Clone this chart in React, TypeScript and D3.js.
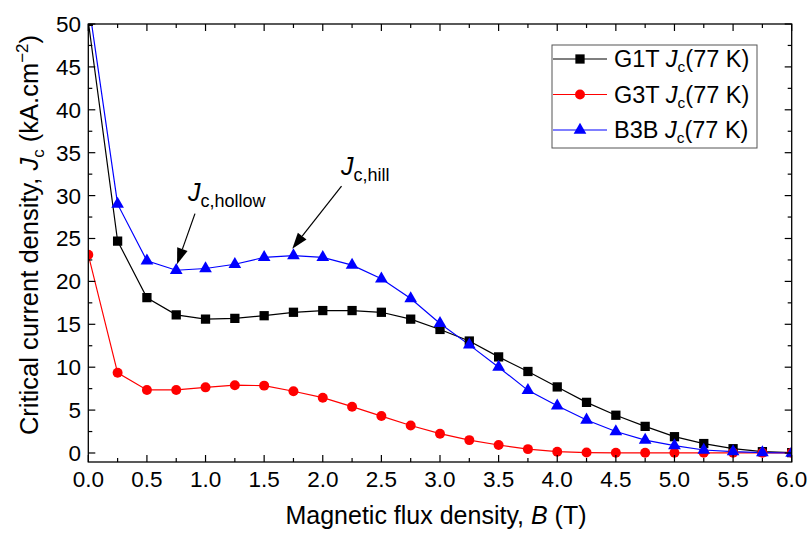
import React, { useEffect, useRef } from 'react';
import * as d3 from 'd3';

// magnetic flux density B (T)
const fields = [0, 0.25, 0.5, 0.75, 1.0, 1.25, 1.5, 1.75, 2.0, 2.25, 2.5, 2.75, 3.0, 3.25, 3.5, 3.75, 4.0, 4.25, 4.5, 4.75, 5.0, 5.25, 5.5, 5.75, 6.0];

// Jc (kA.cm^-2)
const g1t = [50.3, 24.7, 18.1, 16.1, 15.6, 15.7, 16.0, 16.4, 16.6, 16.6, 16.4, 15.6, 14.4, 13.05, 11.2, 9.5, 7.7, 5.9, 4.4, 3.1, 1.9, 1.1, 0.5, 0.15, 0.05];
const g3t = [23.1, 9.35, 7.35, 7.35, 7.65, 7.9, 7.85, 7.2, 6.45, 5.4, 4.3, 3.2, 2.25, 1.5, 0.93, 0.45, 0.15, 0.05, 0.02, 0.02, 0.02, 0.02, 0.02, 0.02, 0.02];
const b3b = [52.7, 29.0, 22.4, 21.3, 21.5, 22.0, 22.8, 23.0, 22.8, 21.9, 20.3, 18.0, 15.1, 12.6, 10.0, 7.3, 5.5, 3.85, 2.5, 1.5, 0.85, 0.35, 0.15, 0.05, 0.0];

const seriesNames = ['G1T', 'G3T', 'B3B'];
const seriesColors = ['#000000', '#ff0000', '#0000ff'];
const seriesShapes = ['square', 'circle', 'triangle'];
const seriesValues = [g1t, g3t, b3b];

const xTicks = [0, 0.5, 1, 1.5, 2, 2.5, 3, 3.5, 4, 4.5, 5, 5.5, 6];
const yTicks = [0, 5, 10, 15, 20, 25, 30, 35, 40, 45, 50];

const W = 809;
const H = 534;

const App = () => {
    const ref = useRef<SVGSVGElement | null>(null);

    useEffect(() => {
        document.body.style.margin = '0';
        if (!ref.current) return;
        const svg = d3.select(ref.current);
        svg.selectAll('*').remove();

        const left = 88.3, right = 791.7, top = 24, bottom = 462;
        const x = d3.scaleLinear().domain([0, 6]).range([left, right]);
        const y = d3.scaleLinear().domain([-1.05, 50]).range([bottom, top]);
        const font = 'Arial, "Liberation Sans", sans-serif';

        svg.append('rect').attr('width', W).attr('height', H).attr('fill', '#fff');

        svg.append('defs').append('clipPath').attr('id', 'plotclip')
            .append('rect')
            .attr('x', left).attr('y', top)
            .attr('width', right - left).attr('height', bottom - top);

        const plot = svg.append('g').attr('clip-path', 'url(#plotclip)');

        const line = d3.line<number>()
            .x((d, i) => x(fields[i]))
            .y(d => y(d));

        const symbolFor = (shape: string) => {
            if (shape === 'square') return d3.symbol(d3.symbolSquare, 86);
            if (shape === 'circle') return d3.symbol(d3.symbolCircle, 78);
            return d3.symbol(d3.symbolTriangle, 70);
        };

        seriesValues.forEach((vals, s) => {
            plot.append('path')
                .datum(vals)
                .attr('fill', 'none')
                .attr('stroke', seriesColors[s])
                .attr('stroke-width', 1.2)
                .attr('d', line);
        });
        seriesValues.forEach((vals, s) => {
            plot.selectAll(`.m${s}`)
                .data(vals)
                .enter().append('path')
                .attr('class', `m${s}`)
                .attr('transform', (d, i) => `translate(${x(fields[i])},${y(d)})`)
                .attr('d', symbolFor(seriesShapes[s])())
                .attr('fill', seriesColors[s]);
        });

        // frame with inward ticks
        svg.append('rect')
            .attr('x', left).attr('y', top)
            .attr('width', right - left).attr('height', bottom - top)
            .attr('fill', 'none').attr('stroke', '#000').attr('stroke-width', 1.3);

        const xMinor = d3.range(0.25, 6, 0.5);
        const yMinor = d3.range(2.5, 50, 5);
        const ticks = svg.append('g').attr('stroke', '#000').attr('stroke-width', 1.2);
        xTicks.forEach(t => {
            ticks.append('line').attr('x1', x(t)).attr('x2', x(t)).attr('y1', bottom).attr('y2', bottom - 7);
            ticks.append('line').attr('x1', x(t)).attr('x2', x(t)).attr('y1', top).attr('y2', top + 7);
        });
        xMinor.forEach(t => {
            ticks.append('line').attr('x1', x(t)).attr('x2', x(t)).attr('y1', bottom).attr('y2', bottom - 4);
            ticks.append('line').attr('x1', x(t)).attr('x2', x(t)).attr('y1', top).attr('y2', top + 4);
        });
        yTicks.forEach(t => {
            ticks.append('line').attr('x1', left).attr('x2', left + 7).attr('y1', y(t)).attr('y2', y(t));
            ticks.append('line').attr('x1', right).attr('x2', right - 7).attr('y1', y(t)).attr('y2', y(t));
        });
        yMinor.forEach(t => {
            ticks.append('line').attr('x1', left).attr('x2', left + 4).attr('y1', y(t)).attr('y2', y(t));
            ticks.append('line').attr('x1', right).attr('x2', right - 4).attr('y1', y(t)).attr('y2', y(t));
        });

        svg.append('g').selectAll('text')
            .data(xTicks).enter().append('text')
            .attr('x', d => x(d)).attr('y', 487)
            .attr('text-anchor', 'middle')
            .attr('font-family', font).attr('font-size', 22.5)
            .text(d => d3.format('.1f')(d));

        svg.append('g').selectAll('text')
            .data(yTicks).enter().append('text')
            .attr('x', 81).attr('y', d => y(d) + 8)
            .attr('text-anchor', 'end')
            .attr('font-family', font).attr('font-size', 22.5)
            .text(d => d);

        // axis titles
        const xt = svg.append('text')
            .attr('x', 436).attr('y', 524)
            .attr('text-anchor', 'middle')
            .attr('font-family', font).attr('font-size', 25);
        xt.append('tspan').text('Magnetic flux density, ');
        xt.append('tspan').attr('font-style', 'italic').text('B');
        xt.append('tspan').text(' (T)');

        const yt = svg.append('text')
            .attr('transform', `translate(38,${(top + bottom) / 2 - 8}) rotate(-90)`)
            .attr('text-anchor', 'middle')
            .attr('font-family', font).attr('font-size', 25.5);
        yt.append('tspan').text('Critical current density, ');
        yt.append('tspan').attr('font-style', 'italic').text('J');
        yt.append('tspan').attr('font-size', 17).attr('dy', 6).text('c');
        yt.append('tspan').attr('dy', -6).text(' (kA.cm');
        yt.append('tspan').attr('font-size', 17).attr('dy', -10).text('\u22122');
        yt.append('tspan').attr('dy', 10).text(')');

        // legend
        const lg = svg.append('g');
        lg.append('rect')
            .attr('x', 552).attr('y', 45).attr('width', 205).attr('height', 103)
            .attr('fill', '#fff').attr('stroke', '#555').attr('stroke-width', 1);
        seriesNames.forEach((name, s) => {
            const ly = 59 + s * 35.5;
            lg.append('line').attr('x1', 553).attr('x2', 607).attr('y1', ly).attr('y2', ly)
                .attr('stroke', seriesColors[s]).attr('stroke-width', 1.2);
            lg.append('path')
                .attr('transform', `translate(580,${ly})`)
                .attr('d', symbolFor(seriesShapes[s])())
                .attr('fill', seriesColors[s]);
            const t = lg.append('text')
                .attr('x', 614).attr('y', ly + 8)
                .attr('font-family', font).attr('font-size', 23.5);
            t.append('tspan').text(name + ' ');
            t.append('tspan').attr('font-style', 'italic').text('J');
            t.append('tspan').attr('font-size', 15.5).attr('dy', 5).text('c');
            t.append('tspan').attr('dy', -5).text('(77 K)');
        });

        // annotations
        const arrow = (x1: number, y1: number, x2: number, y2: number) => {
            const px1 = x(x1), py1 = y(y1), px2 = x(x2), py2 = y(y2);
            const ang = Math.atan2(py2 - py1, px2 - px1);
            const len = 16, half = 5.5;
            const bx = px2 - len * Math.cos(ang), by = py2 - len * Math.sin(ang);
            svg.append('line')
                .attr('x1', px1).attr('y1', py1).attr('x2', bx).attr('y2', by)
                .attr('stroke', '#000').attr('stroke-width', 1.2);
            const pts = [
                [px2, py2],
                [bx + half * Math.sin(ang), by - half * Math.cos(ang)],
                [bx - half * Math.sin(ang), by + half * Math.cos(ang)],
            ];
            svg.append('polygon').attr('points', pts.map(p => p.join(',')).join(' ')).attr('fill', '#000');
        };
        arrow(0.91, 27.9, 0.757, 22.0);
        arrow(2.16, 31.1, 1.74, 23.8);

        const label = (bx: number, by: number, sub: string) => {
            const t = svg.append('text')
                .attr('x', x(bx)).attr('y', y(by))
                .attr('font-family', font).attr('font-size', 25);
            t.append('tspan').attr('font-style', 'italic').text('J');
            t.append('tspan').attr('font-size', 18).attr('dy', 6).text(sub);
        };
        label(0.85, 29.4, 'c,hollow');
        label(2.155, 32.4, 'c,hill');
    }, []);

    return <svg ref={ref} width={W} height={H} style={{ display: 'block' }} />;
};

export default App;
